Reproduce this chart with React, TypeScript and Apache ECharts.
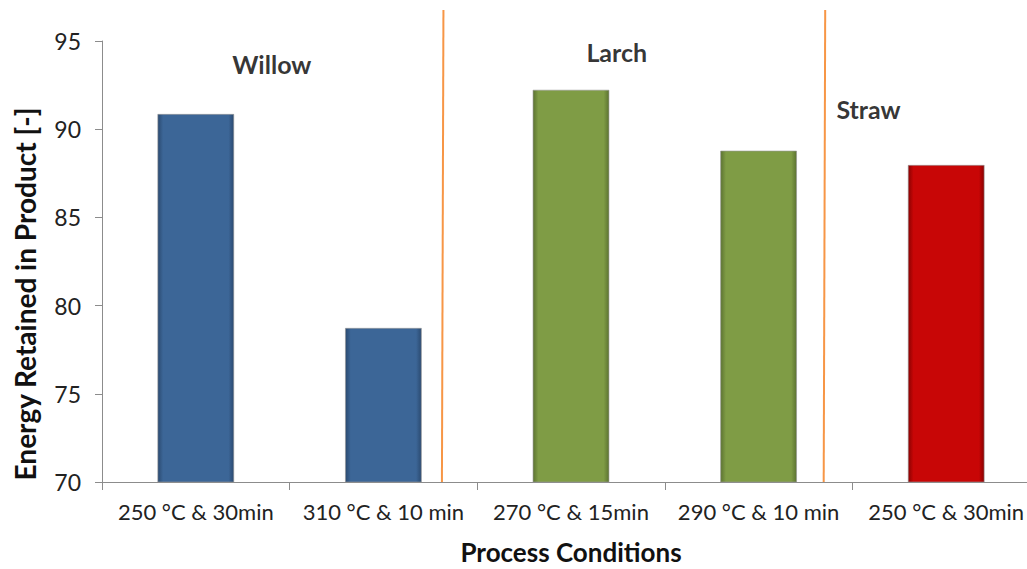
import React, { useEffect, useRef } from "react";
import * as echarts from "echarts";

const categories = [
  "250 °C & 30min",
  "310 °C & 10 min",
  "270 °C & 15min",
  "290 °C & 10 min",
  "250 °C & 30min",
];
const values = [90.87, 78.74, 92.24, 88.79, 87.98];
const barGroup = [0, 0, 1, 1, 2];

const groupNames = ["Willow", "Larch", "Straw"];
const groupLabelX = [0.905, 2.744, 4.086];
const groupLabelY = [93.71, 94.39, 91.16];
const separatorsX = [1.82, 3.855];

const yTicks = [70, 75, 80, 85, 90, 95];

const palettes = [
  { edge: "#2B4A70", main: "#3C6697", top: "#6E9AD2" },
  { edge: "#5C7331", main: "#7F9C45", top: "#A8CC6A" },
  { edge: "#8A0202", main: "#C80606", top: "#F23C3C" },
];

const FONT = "Lato, 'Open Sans', sans-serif";

export default function App() {
  const ref = useRef<HTMLDivElement>(null);
  useEffect(() => {
    if (!ref.current) return;
    const chart = echarts.init(ref.current, undefined, { renderer: "svg" });
    const barData = values.map((v, i) => {
      const p = palettes[barGroup[i]];
      return {
        value: v,
        itemStyle: {
          color: new echarts.graphic.LinearGradient(0, 0, 1, 0, [
            { offset: 0, color: p.edge },
            { offset: 0.07, color: p.main },
            { offset: 0.93, color: p.main },
            { offset: 1, color: p.edge },
          ]),
          borderColor: "rgba(150,150,150,0.6)",
          borderWidth: 1,
        },
      };
    });
    chart.setOption({
      animation: false,
      backgroundColor: "#ffffff",
      grid: { left: 102, right: 0, top: 41, bottom: 87, outerBoundsMode: "none", containLabel: false },
      xAxis: [
        {
          type: "category",
          data: categories,
          axisLine: { lineStyle: { color: "#8c8c8c", width: 1 } },
          axisTick: { show: true, length: 8, lineStyle: { color: "#8c8c8c" } },
          axisLabel: {
            color: "#222",
            fontSize: 22,
            fontFamily: FONT,
            margin: 18,
            interval: 0,
          },
          name: "Process Conditions",
          nameLocation: "middle",
          nameGap: 57,
          nameTextStyle: {
            color: "#111",
            fontSize: 26,
            fontWeight: "bold",
            fontFamily: FONT,
          },
        },
        {
          type: "value",
          min: 0,
          max: 5,
          show: false,
        },
      ],
      yAxis: {
        type: "value",
        min: yTicks[0],
        max: yTicks[yTicks.length - 1],
        interval: 5,
        splitLine: { show: false },
        axisLine: { show: true, lineStyle: { color: "#8c8c8c", width: 1 } },
        axisTick: { show: true, length: 7, lineStyle: { color: "#8c8c8c" } },
        axisLabel: {
          color: "#222",
          fontSize: 23,
          fontFamily: FONT,
          margin: 21,
        },
      },
      series: [
        {
          type: "bar",
          data: barData,
          barWidth: "41%",
          xAxisIndex: 0,
        },
        {
          type: "scatter",
          xAxisIndex: 1,
          symbolSize: 0,
          silent: true,
          data: groupNames.map((n, i) => ({
            name: n,
            value: [groupLabelX[i], groupLabelY[i]],
          })),
          label: {
            show: true,
            position: "inside",
            formatter: (p: any) => p.name,
            color: "#000",
            fontSize: 25,
            fontWeight: "bold",
            fontFamily: FONT,
          },
        },
      ],
    });
    const yTop = 10;
    const yBottom = chart.convertToPixel({ yAxisIndex: 0 }, yTicks[0]) as number;
    const lines = separatorsX.map((sx) => {
      const px = chart.convertToPixel({ xAxisIndex: 1 }, sx) as number;
      return {
        type: "line",
        shape: { x1: px, y1: yTop, x2: px - 1.5, y2: yBottom },
        style: { stroke: "#F79646", lineWidth: 2 },
        silent: true,
        z: 10,
      };
    });
    chart.setOption({
      graphic: [
        ...lines,
        {
          type: "text",
          x: 25,
          y: 294,
          rotation: Math.PI / 2,
          style: {
            text: "Energy Retained in Product [-]",
            fill: "#111",
            fontSize: 28,
            fontWeight: "bold",
            fontFamily: FONT,
            align: "center",
            verticalAlign: "middle",
          },
        },
      ],
    });
    return () => chart.dispose();
  }, []);
  return (
    <div
      style={{
        position: "fixed",
        left: 0,
        top: 0,
        width: 1027,
        height: 569,
        overflow: "hidden",
      }}
    >
      <div ref={ref} style={{ width: 1040, height: 569 }} />
    </div>
  );
}
